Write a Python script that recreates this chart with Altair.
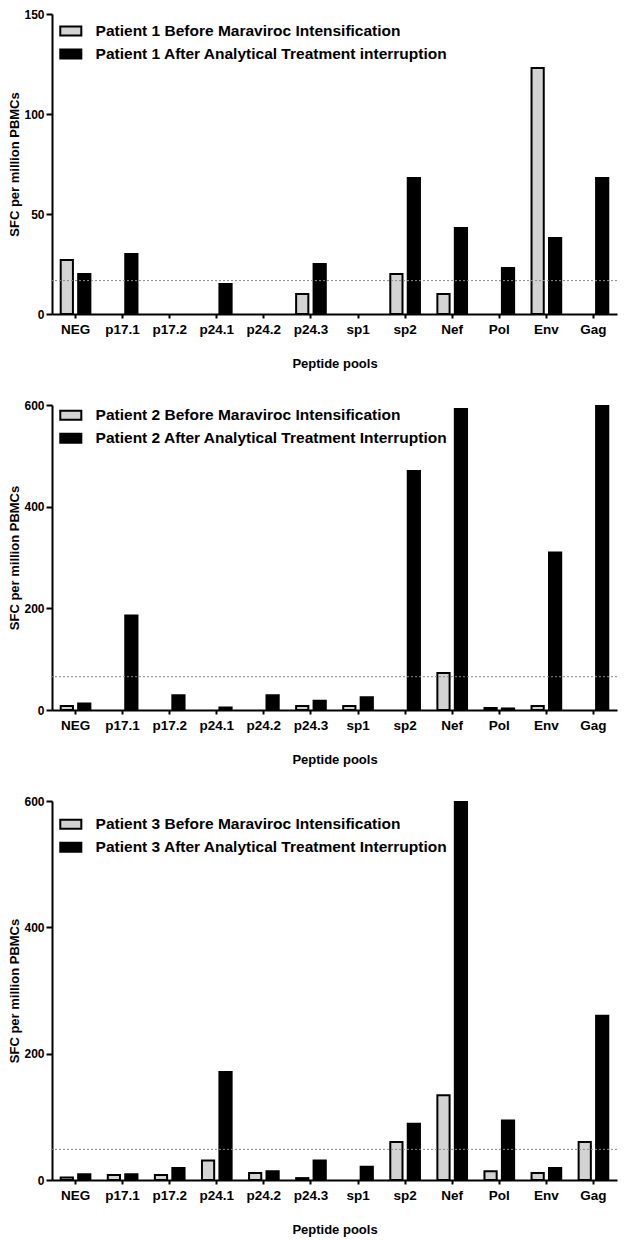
import altair as alt
import pandas as pd

categories = ["NEG", "p17.1", "p17.2", "p24.1", "p24.2", "p24.3", "sp1", "sp2", "Nef", "Pol", "Env", "Gag"]

p1_before = [27, 0, 0, 0, 0, 10, 0, 20, 10, 0, 123, 0]
p1_after = [20, 30, 0, 15, 0, 25, 0, 68, 43, 23, 38, 68]
p1_threshold = 16.7
p1_labels = ["Patient 1 Before Maraviroc Intensification",
             "Patient 1 After Analytical Treatment interruption"]

p2_before = [8, 0, 0, 0, 0, 8, 8, 0, 73, 4, 8, 0]
p2_after = [13, 186, 29, 5, 29, 18, 25, 470, 592, 3, 310, 600]
p2_threshold = 65.5
p2_labels = ["Patient 2 Before Maraviroc Intensification",
             "Patient 2 After Analytical Treatment Interruption"]

p3_before = [4, 8, 8, 31, 11, 3, 0, 60, 134, 14, 11, 60]
p3_after = [9, 9, 19, 171, 14, 31, 21, 89, 600, 94, 19, 260]
p3_threshold = 48.5
p3_labels = ["Patient 3 Before Maraviroc Intensification",
             "Patient 3 After Analytical Treatment Interruption"]

FONT = "Liberation Sans"
W = 565


def panel(before, after, thr, labels, ymax, yticks, height, legend_y):
    rows = []
    for c, b, a in zip(categories, before, after):
        rows.append({"cat": c, "s": 0, "series": labels[0], "value": b})
        rows.append({"cat": c, "s": 1, "series": labels[1], "value": a})
    df = pd.DataFrame(rows)

    yaxis = alt.Axis(values=yticks, title="SFC per million PBMCs", grid=False,
                     tickSize=6, tickWidth=2, domainWidth=2, labelFontSize=12,
                     labelFontWeight="bold", titleFontSize=13, titleFontWeight="bold",
                     titlePadding=2, labelPadding=2)
    yscale = alt.Scale(domain=[0, ymax], nice=False, zero=True)

    bars = alt.Chart(df).transform_filter("datum.value > 0").mark_bar(
        stroke="black", strokeWidth=2, clip=True
    ).encode(
        x=alt.X("cat:N", sort=categories,
                scale=alt.Scale(domain=categories, paddingInner=0.37, paddingOuter=0.185),
                axis=alt.Axis(title="Peptide pools", labelAngle=0, labelFontSize=13.5,
                              labelFontWeight="bold", tickSize=4, tickWidth=2,
                              domainWidth=2, labelPadding=4, titleFontSize=13,
                              titleFontWeight="bold", titlePadding=22)),
        xOffset=alt.XOffset("s:O", scale=alt.Scale(domain=[0, 1], paddingInner=0.3, paddingOuter=0)),
        y=alt.Y("value:Q", scale=yscale, axis=yaxis),
        color=alt.Color("series:N",
                        scale=alt.Scale(domain=labels, range=["#d3d3d3", "#000000"]),
                        legend=alt.Legend(orient="none", legendX=9.3, legendY=legend_y,
                                          title=None, padding=0,
                                          symbolType="M-1.28,-0.55H1.28V0.55H-1.28Z",
                                          symbolSize=270, symbolStrokeColor="black",
                                          symbolStrokeWidth=2, labelOffset=15.3,
                                          rowPadding=4, labelFontSize=15.5,
                                          labelFontWeight="bold", labelLimit=600,
                                          labelColor="black", labelFont=FONT)),
    )

    rule = alt.Chart(pd.DataFrame({"value": [thr]})).mark_rule(
        color="#8a8a8a", strokeDash=[2, 2], strokeWidth=1
    ).encode(y=alt.Y("value:Q", scale=yscale, axis=yaxis))

    return alt.layer(bars, rule).properties(width=W, height=height)


c1 = panel(p1_before, p1_after, p1_threshold, p1_labels, 150, [0, 50, 100, 150], 300, 7.5)
c2 = panel(p2_before, p2_after, p2_threshold, p2_labels, 600, [0, 200, 400, 600], 305, 0.8)
c3 = panel(p3_before, p3_after, p3_threshold, p3_labels, 600, [0, 200, 400, 600], 379, 13.8)

chart = alt.vconcat(c1, c2, c3, spacing=91, bounds="flush").resolve_scale(
    x="independent", y="independent", color="independent"
).resolve_legend(color="independent").properties(
    padding={"left": 0, "top": 0, "right": 0, "bottom": 0}
).configure_view(stroke=None).configure_axis(
    domainColor="black", tickColor="black", labelColor="black", titleColor="black",
    labelFont=FONT, titleFont=FONT
).configure_legend(labelFont=FONT)

chart.save("out.html", embed_options={"renderer": "svg", "actions": False})
